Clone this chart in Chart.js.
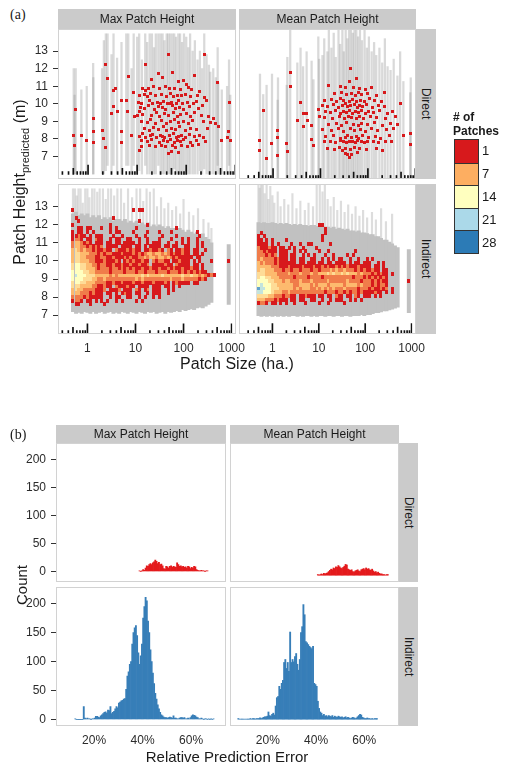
<!DOCTYPE html>
<html>
<head>
<meta charset="utf-8">
<title>Patch height predictions</title>
<script src="https://cdn.jsdelivr.net/npm/chart.js@4.4.1/dist/chart.umd.min.js"></script>
<style>
    body { margin: 0; background: #fff; }
    #page { position: relative; width: 505px; height: 763px; overflow: hidden; font-family: "Liberation Sans", Arial, sans-serif; color: #1a1a1a; }
    #page canvas { position: absolute; }
    .strip { position: absolute; background: #cbcbcb; font-size: 12px; display: flex; align-items: center; justify-content: center; white-space: nowrap; }
    .strip.side { writing-mode: vertical-rl; }
    .frame { position: absolute; box-sizing: border-box; border: 1px solid #d2d2d2; pointer-events: none; }
    .txt { position: absolute; white-space: nowrap; line-height: 1; }
    .tag { font-family: "Liberation Serif", "DejaVu Serif", serif; font-size: 14px; }
    .rot { transform: translate(-50%, -50%) rotate(-90deg); }
    .rot sub { font-size: 11px; vertical-align: -4px; }
    .legend-box { position: absolute; border: 1px solid #333; box-sizing: border-box; }
    .legend-box div { height: 20%; box-sizing: border-box; border-top: 1px solid #333; }
    .legend-box div:first-child { border-top: none; }
</style>
</head>
<body>
<div id="page"></div>
<script>
// ---------- (a) predicted patch height against patch size ----------
const sizeRange = [0.244, 1033];
const heightRange = [5.96, 14.02];
const sizeTicks = [1, 10, 100, 1000];
const heightTicks = [7, 8, 9, 10, 11, 12, 13];

const legendCounts = [1, 7, 14, 21, 28];
const legendColors = ['#d7191c', '#fdae61', '#ffffbf', '#abd9e9', '#2c7bb6'];

// count represented by each digit in the heat grids ('.' = empty bin)
const levelCount = [0, 1, 5, 8, 11, 14, 19, 25];

// bin centres of the indirect heat grids
const heatCols = [0.50, 0.58, 0.66, 0.76, 0.87, 1.0, 1.15, 1.32, 1.51, 1.74,
    2.0, 2.29, 2.63, 3.02, 3.47, 3.98, 4.57, 5.25, 6.03, 6.92,
    7.94, 9.12, 10.5, 12.0, 13.8, 15.8, 18.2, 20.9, 24.0, 27.5,
    31.6, 36.3, 41.7, 47.9, 55.0, 63.1, 72.4, 83.2, 95.5, 110,
    126, 145, 166, 191, 219, 251, 288, 331, 380, 437,
    501, 575, 661, 759, 871, 1000];
const heatRows = [12.8, 12.6, 12.4, 12.2, 12.0, 11.8, 11.6, 11.4, 11.2, 11.0, 10.8, 10.6, 10.4, 10.2,
    10.0, 9.8, 9.6, 9.4, 9.2, 9.0, 8.8, 8.6, 8.4, 8.2, 8.0, 7.8, 7.6];

const heatMaxIndirect = [
    '1......... .......... .1.11..... .......... .......... ......',
    '.......... .......... .......... .......... .......... ......',
    '.1........ ....1..... .......... .......... .......... ......',
    '..1....... .......... ...1...... .......... .......... ......',
    '1......... ...1...... ......1... .......... .......... ......',
    '..11.11... 1..1.1.... ..1....... ......1... .......... ......',
    '1.11.1.1.. ...1.11... .1....1... 1...1..... ...1...... ......',
    '11211.1.11 1...1..1.. ..1..1.... .1....1... ....1..... ......',
    '1221.11.21 1..1.11..1 1..1..1... 1...1...1. 1..1...... ......',
    '2332121.11 1.11.11.11 11.1..1.11 1..1..1.1. 1..1.1.... ......',
    '2332212121 2.1111.111 1.11.1.111 1.11.11..1 1..1.1.... ......',
    '3432322121 1211.21112 1211.11211 21.21.1121 1.11..1... ......',
    '3443332221 2122111211 1212123323 3232121121 1.11.1.... ......',
    '3443322211 2211211121 2112232332 3323212111 11.11..... ......',
    '3443332211 1211121.12 1211211.21 2211.11211 1.1.1...1. ....1.',
    '4554433221 2211211211 2112112.11 11211.2111 1.11.1.... ......',
    '4554433321 2221221212 1211211211 2112121121 1211.1.... ......',
    '5555443322 2221222212 2212212221 2221222121 2121211... ......',
    '5655544433 3332323333 3333434333 3433333343 3433232121 ......',
    '5555444332 2322222222 2232322222 2222322232 2222121... ......',
    '4554433322 2211211211 1211211121 1121.12111 1.11...... ......',
    '4443333221 1211.21112 11.1111.11 1.11.1.1.. .......... ......',
    '3433222211 12.1112.11 1.21.12.11 1..1.1.... .......... ......',
    '3332221211 1.11.1.121 1.11..1.11 1..1...... .......... ......',
    '2222121111 1..1.11..1 1..1.1..1. 1......... .......... ......',
    '1221.11.1. 1.1..1.1.. ..1.1..... .......... .......... ......',
    '.11...1... .1........ .......... .......... .......... ......'
];

const heatMeanIndirect = [
    '.......... .......... .......... .......... .......... ......',
    '.......... .......... .......... .......... .......... ......',
    '.......... .......... .......... .......... .......... ......',
    '.......... .......... .......... .......... .......... ......',
    '.......... .......... .......... .......... .......... ......',
    '.......... .......... ..11...... .......... .......... ......',
    '.......... .......... ....1..... .......... .......... ......',
    '.1........ .......... ....1..... .......... .......... ......',
    '1.1....... .......... ...1...... .......... .......... ......',
    '11.1.1.... 1......... ...1...... .......... .......... ......',
    '1111.1.1.. ..1..1..11 ......1... .......... .......... ......',
    '2111211.11 .1.1..1... .1........ .......... .......... ......',
    '2212111.11 1..1.1.1.. ..1..1.... .....1.... .......... ......',
    '2221212.11 1.11..1.1. 1...1..1.. ..1.1..... .......... ......',
    '2322221211 1.11.11..1 1..1.1.1.1 1..1..1..1 .1........ ......',
    '3232221211 1111.11.11 1.11.11.11 11.1.11.11 1..1.1.... ......',
    '3333322211 1211112111 2112121121 2121112111 1.11.1.... ......',
    '3443332221 2212212221 2212223232 2322212121 1211.11... ......',
    '4443333222 2322232223 2233343433 4343332322 2121211.1. ......',
    '4554433322 2221222212 2221222222 2222122212 1212121... ......',
    '5555443332 3322232223 2222232222 2232222122 2121211... ....1.',
    '5655544333 3332233332 3233323333 3233332322 2121221... ......',
    '7665544433 3332323332 2323232322 2322221222 1211212.1. ......',
    '6655543332 2322222222 2222122212 2121221211 11211.1.1. ......',
    '4444332221 2211.11211 1.11.11.21 1.11.21.11 1.1.1..... ......',
    '3332221211 1.11.11..1 1..1..1.11 1..1.1.1.. .......... ......',
    '1221.11.1. 1..1...1.. ..1..1.... .1........ .......... ......'
];

// prediction interval envelope per heat column (indirect panels)
const bandMaxLo = [7.2, 7.1, 7.15, 7.1, 7.2, 7.15, 7.1, 7.2, 7.1, 7.15,
    7.2, 7.1, 7.15, 7.2, 7.1, 7.15, 7.1, 7.2, 7.15, 7.1,
    7.2, 7.15, 7.1, 7.2, 7.15, 7.1, 7.2, 7.15, 7.2, 7.1,
    7.15, 7.2, 7.1, 7.2, 7.15, 7.2, 7.25, 7.2, 7.3, 7.25,
    7.3, 7.35, 7.3, 7.4, 7.45, 7.4, 7.5, 7.6, 7.7, null,
    null, null, null, null, 7.6, null];
const bandMaxHi = [12.6, 12.7, 12.5, 12.6, 12.5, 12.6, 12.4, 12.5, 12.4, 12.5,
    12.3, 12.4, 12.3, 12.4, 12.2, 12.3, 12.3, 12.2, 12.3, 12.1,
    12.2, 12.1, 12.2, 12.0, 12.1, 12.0, 12.1, 11.9, 12.0, 11.9,
    12.0, 11.9, 11.8, 11.9, 11.8, 11.8, 11.7, 11.8, 11.7, 11.6,
    11.7, 11.6, 11.5, 11.6, 11.4, 11.5, 11.3, 11.2, 11.0, null,
    null, null, null, null, 10.9, null];
const bandMeanLo = [6.95, 6.9, 6.95, 6.9, 6.95, 6.9, 6.95, 6.9, 6.95, 6.9,
    6.95, 6.9, 6.95, 6.95, 6.9, 6.95, 6.9, 6.95, 6.95, 6.9,
    6.95, 6.9, 6.95, 6.95, 6.9, 6.95, 6.95, 6.9, 6.95, 6.95,
    6.9, 6.95, 6.95, 6.9, 6.95, 6.95, 6.95, 7.0, 6.95, 7.0,
    7.0, 7.05, 7.1, 7.1, 7.15, 7.2, 7.2, 7.25, 7.3, 7.35,
    7.4, null, null, null, 7.1, null];
const bandMeanHi = [11.95, 11.9, 11.95, 11.9, 11.9, 11.95, 11.9, 11.85, 11.9, 11.85,
    11.9, 11.85, 11.8, 11.85, 11.8, 11.85, 11.8, 11.8, 11.75, 11.8,
    11.8, 11.75, 11.7, 11.75, 11.7, 11.7, 11.65, 11.7, 11.6, 11.65,
    11.6, 11.55, 11.6, 11.5, 11.5, 11.45, 11.5, 11.4, 11.4, 11.35,
    11.3, 11.3, 11.2, 11.2, 11.1, 11.0, 11.0, 10.9, 10.8, 10.7,
    10.6, null, null, null, 10.5, null];

// long single intervals sticking out of the envelope: [size, low, high]
const whiskMaxIndirect = [[0.5, 9, 14], [0.55, 9, 14], [0.6, 9, 13.6], [0.65, 9, 14], [0.72, 9, 14], [0.8, 9, 13.2],
    [0.9, 9, 14], [1.0, 9, 14], [1.1, 9, 13.5], [1.25, 9, 14], [1.4, 9, 14], [1.6, 9, 13.8], [1.8, 9, 14],
    [2.1, 9, 14], [2.4, 9, 13.4], [2.7, 9, 14], [3.1, 9, 14], [3.6, 9, 13.6], [4.2, 9, 14], [5.0, 9, 14],
    [5.8, 9, 13.2], [7.0, 9, 14], [8.5, 9, 13.5], [10.5, 9, 14], [12.5, 9, 14], [14.5, 9, 13.3], [17, 9, 14],
    [20, 9, 13.8], [24, 9, 14], [28, 9, 13.0], [34, 9, 13.5], [40, 9, 12.9], [48, 9, 13.2], [58, 9, 12.8],
    [70, 9, 13.0], [85, 9, 12.6], [100, 9, 13.4], [130, 9, 12.7], [160, 9, 12.5], [200, 9, 12.9],
    [260, 9, 12.3], [330, 9, 12.1], [380, 9, 11.8]];
const whiskMeanIndirect = [[0.5, 9, 14], [0.53, 9, 13.8], [0.57, 9, 14], [0.62, 9, 14], [0.68, 9, 13.5], [0.75, 9, 14],
    [0.82, 9, 13.2], [0.9, 9, 13.9], [1.0, 9, 13.4], [1.1, 9, 13.0], [1.3, 9, 13.6], [1.5, 9, 12.8], [1.8, 9, 13.2],
    [2.2, 9, 12.9], [2.7, 9, 13.5], [3.3, 9, 12.7], [4.0, 9, 13.1], [5.0, 9, 12.6], [6.0, 9, 13.0], [7.5, 9, 12.8],
    [9.0, 9, 14], [10.5, 9, 14], [12, 9, 13.6], [13.5, 9, 14], [15.5, 9, 13.2], [18, 9, 12.8], [21, 9, 13.3],
    [25, 9, 12.6], [30, 9, 13.1], [36, 9, 12.5], [43, 9, 12.9], [52, 9, 12.4], [62, 9, 12.8], [75, 9, 12.3],
    [90, 9, 12.6], [110, 9, 12.2], [140, 9, 12.5], [170, 9, 12.1], [220, 9, 12.7], [280, 9, 12.0], [380, 9, 12.4]];

// direct panels: single patches [size, predicted height]
const maxDirectPts = [
    [0.51, 8.2], [0.53, 7.65], [0.56, 9.7], [0.73, 8.2], [0.94, 7.9], [1.27, 9.15], [1.27, 8.45], [1.28, 7.8], [1.93, 8.48], [2.1, 8.05],
    [2.3, 12.25], [2.3, 7.5], [2.5, 11.43], [3.3, 10.77], [3.6, 10.9], [3.3, 9.82], [3.0, 9.43], [3.9, 9.55], [4.8, 10.2], [6.0, 10.2],
    [6.5, 9.55], [6.6, 11.57], [4.8, 7.8], [4.7, 8.45], [7.7, 8.2], [8.5, 10.66], [9, 9.3], [10, 9.32], [11, 9.55], [11.2, 7.35],
    [12.5, 7.55], [14.6, 12.25], [43, 12.8], [233, 12.8], [437, 11.2], [745, 10.1], [740, 8.45], [790, 7.9], [680, 8.1], [530, 7.9],
    [27, 11.7], [33, 11.5], [52, 11.8], [69, 11.25], [86, 11.3], [100, 11.1], [20, 11.4], [150, 11.6], [17, 10.9],
    [13, 10.9], [15, 10.75], [22, 11.0], [28, 10.9], [37, 11.0], [45, 10.85], [58, 10.9], [75, 10.8], [110, 10.95], [130, 10.8], [190, 10.7], [14, 10.55],
    [11, 10.5], [16, 10.4], [19, 10.6], [24, 10.45], [31, 10.55], [40, 10.4], [48, 10.6], [55, 10.4], [66, 10.5], [80, 10.45], [95, 10.55], [120, 10.4], [170, 10.5], [240, 10.35],
    [10.5, 10.1], [12, 10.0], [18, 10.2], [21, 10.0], [26, 10.1], [30, 10.0], [35, 10.15], [42, 10.0], [46, 10.0], [50, 10.1], [62, 10.0], [70, 10.2], [85, 10.0], [105, 10.1], [140, 10.0], [160, 10.15], [260, 10.2],
    [11.5, 9.8], [14, 9.75], [17, 9.9], [23, 9.7], [27, 9.85], [33, 9.8], [38, 9.7], [52, 9.9], [60, 9.75], [72, 9.8], [90, 9.7], [115, 9.85], [180, 9.75], [210, 9.9],
    [13, 9.4], [20, 9.35], [25, 9.5], [29, 9.3], [36, 9.45], [44, 9.35], [56, 9.5], [65, 9.3], [78, 9.4], [100, 9.45], [125, 9.3], [150, 9.5], [290, 9.3], [200, 9.35],
    [12, 9.0], [16, 8.95], [19, 9.1], [24, 8.9], [32, 9.05], [40, 8.9], [48, 9.0], [58, 9.1], [68, 8.95], [88, 9.0], [110, 8.9], [135, 9.05], [310, 8.93], [355, 9.14], [400, 8.9], [230, 9.0],
    [14, 8.6], [18, 8.5], [22, 8.65], [27, 8.55], [34, 8.7], [39, 8.5], [50, 8.6], [61, 8.55], [74, 8.7], [95, 8.5], [120, 8.6], [165, 8.55], [450, 8.7], [270, 8.6],
    [11, 8.15], [13, 8.3], [15, 8.1], [19, 8.2], [21, 8.25], [25, 8.1], [30, 8.2], [33, 8.15], [36, 8.1], [45, 8.2], [54, 8.3], [62, 8.1], [70, 8.15], [82, 8.2], [98, 8.1], [115, 8.25], [145, 8.15], [190, 8.2], [220, 8.1],
    [12, 7.9], [16, 7.85], [20, 7.95], [28, 7.8], [35, 7.9], [42, 7.85], [47, 7.95], [57, 7.8], [66, 7.9], [76, 7.85], [90, 7.95], [125, 7.8], [160, 7.9], [250, 7.85],
    [18, 7.6], [24, 7.55], [31, 7.65], [38, 7.55], [52, 7.6], [60, 7.5], [80, 7.65], [105, 7.55], [135, 7.6], [180, 7.7],
    [44, 7.2], [50, 7.3], [70, 7.25]
];
const meanDirectPts = [
    [2.3, 11.69], [2.3, 10.94], [0.62, 9.65], [0.53, 8.03], [0.53, 7.5], [0.73, 7.07], [0.95, 7.85], [1.27, 8.55], [1.27, 8.2], [1.25, 7.2],
    [1.94, 7.85], [2.0, 7.45], [3.25, 9.11], [3.8, 10.05], [4.3, 9.5], [4.4, 8.8], [5.1, 9.5], [5.4, 9.1], [6.5, 8.85], [6.6, 8.1], [7.1, 7.75], [9.0, 9.7], [9.4, 9.3],
    [44, 11.92], [57, 11.35], [41, 11.2],
    [26, 10.94], [15, 11.0], [33, 10.85], [50, 10.9], [66, 10.8], [90, 10.75], [120, 10.9],
    [20, 10.55], [28, 10.6], [36, 10.5], [46, 10.55], [54, 10.45], [62, 10.6], [75, 10.5], [100, 10.55], [228, 10.6], [150, 10.45],
    [12, 10.2], [17, 10.25], [22, 10.15], [27, 10.3], [31, 10.2], [40, 10.15], [48, 10.25], [58, 10.1], [70, 10.2], [85, 10.15], [110, 10.3], [140, 10.2], [190, 10.1],
    [11, 9.9], [14, 9.85], [19, 9.95], [24, 9.8], [29, 9.9], [34, 10.0], [38, 9.85], [43, 9.9], [52, 9.95], [60, 9.8], [68, 9.9], [78, 9.85], [95, 9.95], [125, 9.8], [165, 9.9], [220, 9.85], [478, 10.0],
    [13, 9.6], [16, 9.55], [21, 9.65], [26, 9.5], [30, 9.6], [35, 9.55], [41, 9.65], [47, 9.5], [55, 9.6], [64, 9.55], [73, 9.65], [88, 9.5], [105, 9.6], [130, 9.55], [175, 9.65], [260, 9.5], [330, 9.6],
    [12, 9.25], [18, 9.2], [25, 9.3], [32, 9.2], [39, 9.3], [45, 9.25], [58, 9.2], [66, 9.3], [80, 9.2], [115, 9.3], [150, 9.25], [240, 9.2], [380, 9.3],
    [15, 8.9], [22, 8.95], [28, 8.85], [36, 9.0], [50, 8.9], [62, 8.85], [75, 8.95], [98, 8.9], [135, 9.0], [200, 8.85], [300, 8.95], [420, 8.9],
    [11, 8.6], [17, 8.55], [24, 8.7], [30, 8.5], [42, 8.65], [53, 8.55], [70, 8.6], [90, 8.5], [120, 8.7], [160, 8.55], [250, 8.6], [350, 8.65], [800, 8.4],
    [13, 8.25], [19, 8.3], [27, 8.15], [33, 8.2], [38, 8.3], [46, 8.2], [57, 8.25], [64, 8.15], [78, 8.3], [105, 8.2], [145, 8.25], [185, 8.15], [280, 8.3], [560, 8.3],
    [12, 7.95], [16, 8.0], [21, 7.9], [26, 8.05], [31, 7.95], [35, 7.9], [40, 8.0], [48, 7.95], [55, 7.9], [60, 8.05], [72, 7.95], [85, 7.9], [100, 8.0], [130, 7.95], [170, 7.9], [230, 8.0], [320, 7.95],
    [14, 7.6], [20, 7.55], [25, 7.65], [29, 7.5], [34, 7.6], [44, 7.55], [51, 7.65], [68, 7.6], [95, 7.55], [150, 7.6], [200, 7.5], [780, 7.8],
    [33, 7.35], [37, 7.3], [46, 7.25], [60, 7.4], [40, 7.1]
];

// direct panels: prediction intervals [size, low, high]
const maxDirectBars = [[0.51, 6, 12.0], [0.53, 6, 10.5], [0.56, 6, 12.0], [0.73, 6, 10.8], [0.94, 6, 11.0], [1.27, 6, 12.3],
    [1.28, 6, 11.5], [1.93, 6, 12.0], [2.1, 6, 13.6], [2.3, 6.2, 14], [2.5, 6.5, 14], [3.0, 6, 12.8], [3.3, 6.5, 14],
    [3.9, 6, 12.6], [4.8, 6, 13.5], [6.0, 6.5, 14], [6.6, 6.5, 14], [7.7, 6, 12.0], [8.5, 6.5, 14],
    [10, 6, 13.8], [11, 6.2, 14], [12.5, 6, 12.5], [14.6, 6.5, 14], [16, 6, 13.5], [18, 6, 14], [20, 6.2, 14],
    [22, 6, 13.2], [24, 6, 14], [27, 6.5, 14], [30, 6, 14], [33, 6, 14], [36, 6, 13.6], [40, 6.2, 14], [43, 6, 14],
    [47, 6, 14], [52, 6, 14], [57, 6.3, 14], [62, 6, 13.8], [69, 6, 14], [75, 6, 14], [82, 6.2, 13.5], [90, 6, 14],
    [100, 6, 13.8], [110, 6, 13.2], [120, 6, 14], [135, 6, 13.0], [150, 6, 13.6], [170, 6, 12.5], [190, 6.2, 13.0],
    [210, 6, 12.0], [233, 6.3, 14], [260, 6, 12.8], [290, 6, 12.2], [310, 6, 11.8], [355, 6, 12.0], [400, 6, 11.5],
    [437, 6.5, 13.2], [450, 6, 11.2], [530, 6, 10.8], [680, 6, 11.0], [745, 6.5, 12.5], [790, 6, 10.5]];
const meanDirectBars = [[0.53, 6, 11.6], [0.62, 6, 10.5], [0.73, 6, 11.0], [0.95, 6, 11.6], [1.27, 6, 11.4], [1.25, 6, 10.2],
    [1.94, 6, 11.0], [2.0, 6, 12.5], [2.3, 6, 14], [3.25, 6, 12.2], [3.8, 6, 13.0], [4.3, 6, 12.0], [5.1, 6, 12.8],
    [6.5, 6, 12.3], [7.1, 6, 11.3], [9.0, 6, 13.6], [9.4, 6, 12.4],
    [11, 6, 12.6], [12, 6, 13.5], [14, 6, 12.8], [15, 6, 14], [17, 6, 13.0], [19, 6, 13.8], [21, 6, 12.5], [24, 6, 14],
    [26, 6, 13.2], [29, 6, 14], [31, 6, 12.8], [34, 6, 14], [37, 6, 13.5], [40, 6, 14], [44, 6, 14], [48, 6, 13.8],
    [52, 6, 14], [57, 6, 14], [62, 6, 13.6], [68, 6, 14], [75, 6, 13.4], [85, 6, 14], [95, 6, 13.0], [105, 6, 13.6],
    [120, 6, 12.8], [135, 6, 13.3], [150, 6, 12.6], [175, 6, 13.0], [200, 6, 12.2], [228, 6, 13.5], [260, 6, 12.0],
    [300, 6, 11.8], [350, 6, 12.4], [420, 6, 11.5], [478, 6, 12.8], [560, 6, 11.2], [780, 6, 10.6], [800, 6, 11.4]];

// ---------- (b) relative prediction error histograms ----------
const errRange = [4.3, 74.4];
const countRange = [-11.5, 221.5];
const errTicks = [20, 40, 60];
const countTicks = [0, 50, 100, 150, 200];
const binWidth = 0.5;

const histMaxDirectStart = 38.5;
const histMaxDirect = [1, 0, 1, 3, 2, 6, 10, 9, 12, 14, 12, 15, 17, 20, 18, 14, 16, 12, 13, 10, 5, 4, 9, 8, 6, 9, 10, 7, 9, 8,
    7, 15, 12, 9, 10, 8, 9, 7, 8, 6, 9, 8, 5, 7, 6, 9, 8, 3, 2, 1, 1, 2, 1, 1, 0, 1, 1];
const histMeanDirectStart = 40.5;
const histMeanDirect = [1, 0, 1, 2, 1, 3, 2, 3, 4, 6, 8, 10, 9, 12, 11, 14, 13, 16, 14, 12, 11, 13, 15, 18, 17, 10, 9, 8, 9, 6,
    5, 7, 8, 9, 7, 6, 9, 10, 11, 9, 12, 10, 11, 9, 8, 10, 7, 5, 6, 4, 5, 3, 2, 2, 1, 1, 0, 1, 1];
const histMaxIndirectStart = 12.0;
const histMaxIndirect = [1, 0, 0, 0, 0, 0, 0, 22, 2, 1, 2, 1, 1, 0, 1, 1,
    2, 5, 5, 4, 3, 6, 8, 10, 12, 13, 11, 16, 15, 22, 10, 12, 14, 18, 22, 20,
    28, 30, 32, 33, 35, 36, 52, 75, 82, 95, 100, 130, 150, 158, 162, 145, 115, 95, 110, 130,
    175, 195, 211, 205, 170, 150, 120, 100, 80, 62, 45, 35, 25, 18, 12, 8, 6, 4, 3, 3,
    2, 3, 4, 3, 2, 6, 2, 2, 1, 1, 2, 3, 3, 2, 3, 1, 1, 2, 1, 3,
    6, 8, 7, 6, 4, 3, 1, 1, 2, 1, 0, 1, 1, 0, 1, 0, 1, 0, 1];
const histMeanIndirectStart = 7.5;
const histMeanIndirect = [1, 0, 0, 0, 0, 0, 0, 0, 0, 0, 1, 0, 1, 1, 0, 1, 1, 1, 2, 1, 2, 3, 4, 4, 5,
    12, 6, 5, 8, 10, 7, 22, 36, 38, 55, 50, 60, 65, 95, 100, 85, 95, 80, 146, 95,
    100, 96, 105, 110, 92, 82, 100, 145, 155, 192, 175, 130, 128, 125, 122, 120, 118, 122, 60, 58,
    55, 30, 18, 12, 10, 6, 8, 5, 6, 4, 6, 5, 4, 6, 3, 5, 4, 3, 5, 4,
    3, 4, 2, 3, 4, 2, 3, 2, 1, 2, 3, 2, 1, 2, 4, 6, 8, 7, 3, 2,
    1, 1, 2, 1, 1, 0, 1, 0, 1, 1, 1];

// ---------- drawing ----------
const FONT = '"Liberation Sans", Arial, sans-serif';
const TICK_COLOR = '#2b2b2b';
const PAD = { left: 0, top: 8, right: 16, bottom: 8 };
Chart.defaults.font.family = FONT;

const page = document.getElementById('page');

function addDiv(cls, x, y, w, h, html) {
    const d = document.createElement('div');
    d.className = cls;
    d.style.left = `${x}px`;
    d.style.top = `${y}px`;
    if (w != null) d.style.width = `${w}px`;
    if (h != null) d.style.height = `${h}px`;
    if (html != null) d.innerHTML = html;
    page.appendChild(d);
    return d;
}

function addCanvas(x, y, w, h, yW, xH) {
    const c = document.createElement('canvas');
    const cw = yW + w + PAD.right;
    const ch = PAD.top + h + xH + PAD.bottom;
    c.width = cw;
    c.height = ch;
    c.style.left = `${x - yW}px`;
    c.style.top = `${y - PAD.top}px`;
    c.style.width = `${cw}px`;
    c.style.height = `${ch}px`;
    page.appendChild(c);
    return c;
}

function hexToRgb(hex) {
    const n = parseInt(hex.slice(1), 16);
    return [(n >> 16) & 255, (n >> 8) & 255, n & 255];
}

function countColor(n) {
    for (let i = 1; i < legendCounts.length; i++) {
        if (n <= legendCounts[i]) {
            const t = Math.max(0, (n - legendCounts[i - 1]) / (legendCounts[i] - legendCounts[i - 1]));
            const a = hexToRgb(legendColors[i - 1]), b = hexToRgb(legendColors[i]);
            return `rgb(${a.map((v, k) => Math.round(v + (b[k] - v) * t)).join(',')})`;
        }
    }
    return legendColors[legendColors.length - 1];
}

function tile(color, w, h) {
    const c = document.createElement('canvas');
    c.width = w;
    c.height = h;
    const g = c.getContext('2d');
    g.fillStyle = color;
    g.fillRect(0, 0, w, h);
    return c;
}

function logTickSet() {
    const ticks = [];
    [0.1, 1, 10, 100].forEach(decade => {
        for (let m = 1; m <= 9; m++) {
            const v = decade * m;
            if (v >= sizeRange[0] && v <= sizeRange[1]) ticks.push([v, m === 1 ? 0.56 : m === 5 ? 0.37 : 0.19]);
        }
    });
    ticks.push([1000, 0.56]);
    return {
        type: 'bar', order: 1, stack: 's', barThickness: 1, backgroundColor: '#111',
        data: ticks.map(([x, len]) => ({ x, y: [heightRange[0], heightRange[0] + len] }))
    };
}

function heatSets(grid) {
    const groups = {};
    grid.forEach((row, r) => {
        row.replace(/ /g, '').split('').forEach((ch, c) => {
            if (ch === '.') return;
            (groups[ch] = groups[ch] || []).push({ x: heatCols[c], y: heatRows[r] });
        });
    });
    return Object.keys(groups).map(level => ({
        type: 'scatter', order: 0, data: groups[level],
        pointStyle: tile(countColor(levelCount[+level]), 3, 4), pointRadius: 2
    }));
}

function directSets(points, bars) {
    return [
        {
            type: 'scatter', order: 0, data: points.map(([x, y]) => ({ x, y })),
            pointStyle: tile(legendColors[0], 3, 3), pointRadius: 2
        },
        logTickSet(),
        {
            type: 'bar', order: 3, stack: 's', barThickness: 1.6, backgroundColor: 'rgba(150,150,150,0.36)',
            data: bars.map(([x, lo, hi]) => ({ x, y: [lo, hi] }))
        }
    ];
}

function indirectSets(grid, lo, hi, whiskers) {
    const sets = heatSets(grid);
    sets.push(logTickSet());
    sets.push({
        type: 'bar', order: 2, stack: 's', barThickness: 3.3, backgroundColor: '#c1c1c1',
        data: heatCols.map((x, i) => hi[i] == null ? null : { x, y: [lo[i], hi[i]] }).filter(Boolean)
    });
    sets.push({
        type: 'bar', order: 4, stack: 's', barThickness: 1.5, backgroundColor: 'rgba(170,170,170,0.4)',
        data: whiskers.map(([x, l, h]) => ({ x, y: [l, h] }))
    });
    return sets;
}

function panelChart(geom, xScale, yScale, datasets, showX, showY) {
    const yW = showY ? 30 : 0;
    const xH = showX ? 24 : 0;
    const canvas = addCanvas(geom.x, geom.y, geom.w, geom.h, yW, xH);
    return new Chart(canvas, {
        type: 'bar',
        data: { datasets },
        options: {
            responsive: false,
            animation: false,
            events: [],
            layout: { padding: PAD },
            plugins: { legend: { display: false }, tooltip: { enabled: false } },
            scales: {
                x: Object.assign({
                    display: showX, offset: false,
                    grid: { display: false, drawTicks: false, offset: false },
                    border: { display: false },
                    afterFit: s => { s.height = xH; }
                }, xScale),
                y: Object.assign({
                    display: showY, stacked: false,
                    grid: { drawOnChartArea: false, drawTicks: true, tickLength: 5, color: '#333' },
                    border: { display: false },
                    afterFit: s => { s.width = yW; }
                }, yScale)
            }
        }
    });
}

const tickFont = { size: 12, family: FONT };

const sizeAxis = {
    type: 'logarithmic', min: sizeRange[0], max: sizeRange[1],
    afterBuildTicks: s => { s.ticks = sizeTicks.map(v => ({ value: v })); },
    ticks: { padding: 7, maxRotation: 0, autoSkip: false, color: TICK_COLOR, font: tickFont, callback: v => String(v) }
};
const heightAxis = {
    type: 'linear', min: heightRange[0], max: heightRange[1],
    afterBuildTicks: s => { s.ticks = heightTicks.map(v => ({ value: v })); },
    ticks: { padding: 5, color: TICK_COLOR, font: tickFont }
};
const errAxis = {
    type: 'linear', min: errRange[0], max: errRange[1],
    afterBuildTicks: s => { s.ticks = errTicks.map(v => ({ value: v })); },
    ticks: { padding: 7, maxRotation: 0, autoSkip: false, color: TICK_COLOR, font: tickFont, callback: v => `${v}%` }
};
const countAxis = {
    type: 'linear', min: countRange[0], max: countRange[1],
    afterBuildTicks: s => { s.ticks = countTicks.map(v => ({ value: v })); },
    ticks: { padding: 5, color: TICK_COLOR, font: tickFont }
};

function histSet(start, counts, color) {
    return [{
        type: 'bar', backgroundColor: color, borderWidth: 0, barPercentage: 1, categoryPercentage: 1,
        data: counts.map((n, i) => ({ x: start + binWidth * (i + 0.5), y: n }))
    }];
}

// panel geometry
const gA = {
    tl: { x: 58, y: 29, w: 178, h: 150 }, tr: { x: 239, y: 29, w: 177, h: 150 },
    bl: { x: 58, y: 184, w: 178, h: 150 }, br: { x: 239, y: 184, w: 177, h: 150 }
};
const gB = {
    tl: { x: 56, y: 443, w: 170, h: 139 }, tr: { x: 230, y: 443, w: 169, h: 139 },
    bl: { x: 56, y: 587, w: 170, h: 139 }, br: { x: 230, y: 587, w: 169, h: 139 }
};

panelChart(gA.tl, sizeAxis, heightAxis, directSets(maxDirectPts, maxDirectBars), false, true);
panelChart(gA.tr, sizeAxis, heightAxis, directSets(meanDirectPts, meanDirectBars), false, false);
panelChart(gA.bl, sizeAxis, heightAxis, indirectSets(heatMaxIndirect, bandMaxLo, bandMaxHi, whiskMaxIndirect), true, true);
panelChart(gA.br, sizeAxis, heightAxis, indirectSets(heatMeanIndirect, bandMeanLo, bandMeanHi, whiskMeanIndirect), true, false);

panelChart(gB.tl, errAxis, countAxis, histSet(histMaxDirectStart, histMaxDirect, '#e41a1c'), false, true);
panelChart(gB.tr, errAxis, countAxis, histSet(histMeanDirectStart, histMeanDirect, '#e41a1c'), false, false);
panelChart(gB.bl, errAxis, countAxis, histSet(histMaxIndirectStart, histMaxIndirect, '#377eb8'), true, true);
panelChart(gB.br, errAxis, countAxis, histSet(histMeanIndirectStart, histMeanIndirect, '#377eb8'), true, false);

// frames, strips and titles
[gA, gB].forEach(g => Object.values(g).forEach(p => addDiv('frame', p.x, p.y, p.w, p.h)));

addDiv('txt tag', 10, 8, null, null, '(a)');
addDiv('strip', gA.tl.x, 9, gA.tl.w, 20, 'Max Patch Height');
addDiv('strip', gA.tr.x, 9, gA.tr.w, 20, 'Mean Patch Height');
addDiv('strip side', 416, gA.tr.y, 20, gA.tr.h, 'Direct');
addDiv('strip side', 416, gA.br.y, 20, gA.br.h, 'Indirect');
addDiv('txt', 237, 356, null, null, 'Patch Size (ha.)').style.cssText += 'font-size:16px;transform:translateX(-50%);';
addDiv('txt rot', 21, 182, null, null, 'Patch Height<sub>predicted</sub> (m)').style.fontSize = '16px';

// count legend
addDiv('txt', 453, 111, null, null, '# of').style.cssText += 'font-size:12px;font-weight:bold;';
addDiv('txt', 453, 125, null, null, 'Patches').style.cssText += 'font-size:12px;font-weight:bold;';
addDiv('legend-box', 454, 139, 25, 115, legendColors.map(c => `<div style="background:${c}"></div>`).join(''));
legendCounts.forEach((n, i) => {
    addDiv('txt', 482, 139 + 115 * (i + 0.5) / legendCounts.length - 6.5, null, null, String(n)).style.fontSize = '13px';
});

addDiv('txt tag', 10, 428, null, null, '(b)');
addDiv('strip', gB.tl.x, 425, gB.tl.w, 18, 'Max Patch Height');
addDiv('strip', gB.tr.x, 425, gB.tr.w, 18, 'Mean Patch Height');
addDiv('strip side', 399, gB.tr.y, 19, gB.tr.h, 'Direct');
addDiv('strip side', 399, gB.br.y, 19, gB.br.h, 'Indirect');
addDiv('txt', 227, 749, null, null, 'Relative Prediction Error').style.cssText += 'font-size:15px;transform:translateX(-50%);';
addDiv('txt rot', 21, 585, null, null, 'Count').style.fontSize = '15px';
</script>
</body>
</html>
